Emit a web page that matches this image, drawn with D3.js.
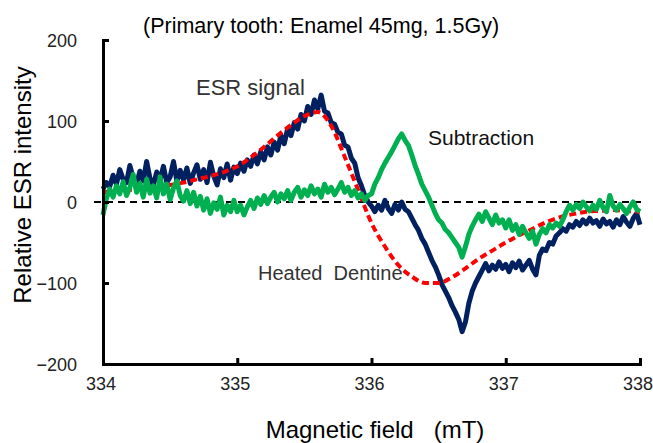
<!DOCTYPE html>
<html><head><meta charset="utf-8">
<script src="https://cdn.jsdelivr.net/npm/d3@7"></script>
<style>
html,body{margin:0;padding:0;background:#fff;}
svg{display:block;}
text{font-family:"Liberation Sans",Arial,sans-serif;}
</style></head>
<body>
<svg id="chart" width="653" height="443"></svg>
<script>
// ---- Data ----
const xTicks = [334, 335, 336, 337, 338];
const yTicks = [200, 100, 0, -100, -200];
const yTickLabels = ["200", "100", "0", "\u2212100", "\u2212200"];

const fieldStart = 334, fieldStep = 0.025; // sampling grid of noisy traces
const esrSignal = [
 16,24,19,33,22,40,28,24,45,30,22,38,26,50,29,21,37,27,44,24,
 31,50,26,39,27,42,23,36,46,28,40,24,49,32,21,41,30,47,27,43,
 35,48,38,52,44,58,47,62,52,68,58,74,64,82,72,90,82,98,90,108,
 100,118,108,126,115,132,112,110,98,96,86,84,70,68,54,48,30,20,8,0,
 -5,-12,-4,-10,2,-8,-14,-3,-10,0,-9,-12,-20,-28,-35,-45,-52,-62,-72,-80,
 -90,-102,-110,-118,-128,-136,-145,-160,-148,-125,-110,-100,-92,-84,-76,-85,-78,-83,-74,-82,
 -77,-86,-75,-81,-73,-84,-78,-72,-83,-90,-66,-58,-60,-50,-52,-42,-38,-33,-36,-28,
 -31,-24,-29,-22,-27,-20,-26,-23,-30,-21,-27,-24,-31,-22,-28,-18,-25,-30,-20,-14,
 -28
];
const subtraction = [
 -16,4,16,6,20,10,25,8,18,34,12,23,6,28,11,20,5,31,10,22,
 3,17,26,8,1,14,-2,12,-5,7,-10,4,-14,-1,-9,6,-16,-4,-12,2,
 -12,-4,-16,-6,2,-8,5,-3,8,-2,6,12,0,10,4,14,2,12,18,6,
 15,8,20,10,16,6,22,12,18,9,16,24,12,18,8,14,5,10,2,8,
 10,22,30,40,48,55,62,70,78,84,76,70,58,45,34,22,14,6,-4,-14,
 -22,-26,-34,-38,-44,-50,-56,-68,-55,-40,-30,-22,-15,-24,-12,-20,-28,-16,-26,-22,
 -32,-22,-35,-28,-40,-30,-38,-45,-36,-52,-40,-33,-38,-28,-32,-26,-30,-22,-12,-4,
 -10,-3,-8,0,-6,-11,-4,-9,2,-7,-12,8,-5,-10,-3,-8,-14,-6,0,-9,
 -12
];
const dentineField = [334.0,334.1,334.2,334.3,334.4,334.5,334.6,334.7,334.8,334.9,
 335.0,335.1,335.2,335.3,335.4,335.5,335.6,335.7,335.8,335.9,
 336.0,336.1,336.2,336.3,336.4,336.5,336.6,336.7,336.8,336.9,
 337.0,337.1,337.2,337.3,337.4,337.5,337.6,337.7,337.8,337.9,338.0];
const heatedDentine = [12,14,15,17,19,21,24,28,32,37,
 44,55,68,82,95,106,111,94,56,15,
 -26,-55,-78,-92,-100,-100,-93,-82,-70,-60,
 -50,-41,-33,-25,-19,-15,-12,-11,-10,-11,-12];

// ---- Layout ----
const svg = d3.select("#chart");
const x = d3.scaleLinear().domain([334, 338]).range([103, 640]);
const y = d3.scaleLinear().domain([-200, 200]).range([364, 40]);

const toPts = (vals) => vals.map((v, i) => [fieldStart + i * fieldStep, v]);
const line = d3.line().x(d => x(d[0])).y(d => y(d[1]));
const smooth = d3.line().x(d => x(d[0])).y(d => y(d[1])).curve(d3.curveMonotoneX);

// zero dashed line
svg.append("line")
  .attr("x1", x(334) - 9).attr("x2", x(338) + 2)
  .attr("y1", y(0)).attr("y2", y(0))
  .attr("stroke", "#000").attr("stroke-width", 2)
  .attr("stroke-dasharray", "7,5");

// series
svg.append("path").datum(toPts(esrSignal)).attr("d", line)
  .attr("fill", "none").attr("stroke", "#002060").attr("stroke-width", 5)
  .attr("stroke-linejoin", "round");
svg.append("path").datum(dentineField.map((f, i) => [f, heatedDentine[i]])).attr("d", smooth)
  .attr("fill", "none").attr("stroke", "#ff0000").attr("stroke-width", 4)
  .attr("stroke-dasharray", "7,4");
svg.append("path").datum(toPts(subtraction)).attr("d", line)
  .attr("fill", "none").attr("stroke", "#00b050").attr("stroke-width", 5)
  .attr("stroke-linejoin", "round");

// axes
const yAxis = svg.append("g").attr("transform", `translate(${x(334)},0)`)
  .call(d3.axisRight(y).tickValues(yTicks).tickSize(6).tickFormat(""));
const xAxis = svg.append("g").attr("transform", `translate(0,${y(-200)})`)
  .call(d3.axisTop(x).tickValues(xTicks).tickSize(6).tickFormat(""));
[yAxis, xAxis].forEach(g => {
  g.select(".domain").attr("stroke", "#000").attr("stroke-width", 3);
  g.selectAll(".tick line").attr("stroke", "#000").attr("stroke-width", 3);
});

// tick labels
svg.append("g").selectAll("text").data(yTicks).join("text")
  .attr("x", 77).attr("y", d => y(d) + 7)
  .attr("text-anchor", "end")
  .style("font-size", "18px").attr("fill", "#222")
  .text((d, i) => yTickLabels[i]);
svg.append("g").selectAll("text").data(xTicks).join("text")
  .attr("x", d => x(d) - 2).attr("y", 390)
  .attr("text-anchor", "middle")
  .style("font-size", "18px").attr("fill", "#222")
  .text(d => d);

// titles
svg.append("text").attr("x", 143).attr("y", 33)
  .style("font-size", "21.5px").attr("fill", "#000")
  .text("(Primary tooth: Enamel 45mg, 1.5Gy)");
svg.append("text").attr("transform", "translate(31,185) rotate(-90)")
  .attr("text-anchor", "middle")
  .style("font-size", "24px").attr("fill", "#000")
  .text("Relative ESR intensity");
svg.append("text").attr("x", 375).attr("y", 438)
  .attr("text-anchor", "middle")
  .style("font-size", "24px").attr("fill", "#000")
  .text("Magnetic field\u00a0\u00a0 (mT)");

// series labels
svg.append("text").attr("x", 196).attr("y", 95)
  .style("font-size", "22px").attr("fill", "#333").text("ESR signal");
svg.append("text").attr("x", 428).attr("y", 145)
  .style("font-size", "21px").attr("fill", "#111").text("Subtraction");
svg.append("text").attr("x", 258).attr("y", 280)
  .style("font-size", "20px").attr("fill", "#333").text("Heated\u00a0 Dentine");
</script>
</body></html>
